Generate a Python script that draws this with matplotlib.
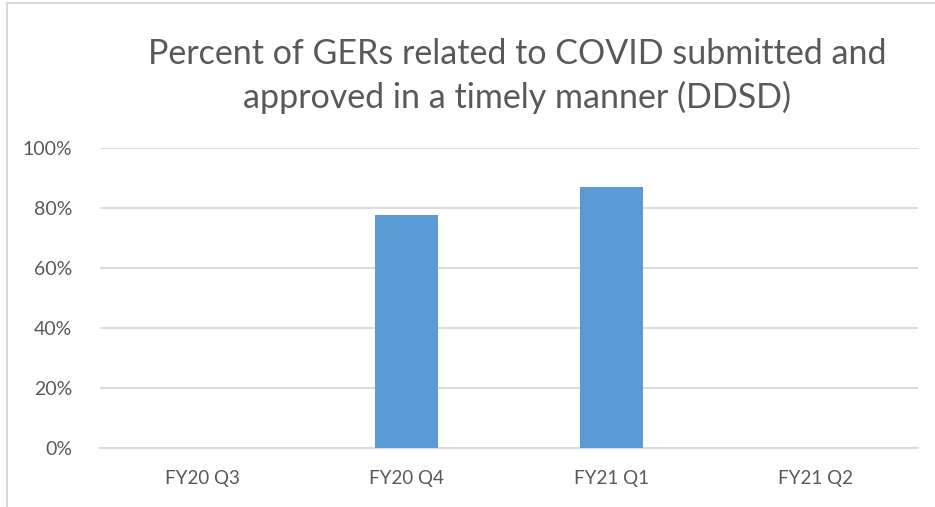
import matplotlib
matplotlib.use("Agg")
from matplotlib import pyplot as plt
from matplotlib.lines import Line2D
from matplotlib.ticker import FuncFormatter

# data
quarters = ["FY20 Q3", "FY20 Q4", "FY21 Q1", "FY21 Q2"]
pct = [0, 77.7, 87.0, 0]

plt.rcParams['font.family'] = ['Lato', 'DejaVu Sans']

fig = plt.figure(figsize=(9.35, 5.07), dpi=100)
ax = fig.add_axes([100/935, 1-448/507, 818/935, 300/507])

ax.bar(range(len(quarters)), pct, width=0.31, color="#5b9bd5", zorder=3)
ax.set_xlim(-0.5, len(quarters) - 0.5)
ax.set_ylim(0, 100)
ax.set_yticks(range(0, 101, 20))
ax.yaxis.set_major_formatter(FuncFormatter(lambda v, _: f"{v:.0f}%"))
ax.set_xticks(range(len(quarters)))
ax.set_xticklabels(quarters)

ax.grid(axis="y", color="#d9d9d9", linewidth=1.3, zorder=0)
for s in ["top", "right", "left"]:
    ax.spines[s].set_visible(False)
ax.spines["bottom"].set_color("#d9d9d9")
ax.spines["bottom"].set_linewidth(1.3)
ax.tick_params(axis="y", length=0, labelsize=14, labelcolor="#595959", pad=20)
ax.tick_params(axis="x", length=0, labelsize=13.5, labelcolor="#595959", pad=16)

fig.text(517/935, 1-76/507,
         "Percent of GERs related to COVID submitted and\napproved in a timely manner (DDSD)",
         ha="center", va="center", fontsize=24.5,
         color="#595959", linespacing=1.4)

# chart area border (only top and left visible in reference)
fig.add_artist(Line2D([7/935, 7/935], [0, 1-3/507], transform=fig.transFigure, color="#d9d9d9", lw=1.5))
fig.add_artist(Line2D([7/935, 1], [1-3/507, 1-3/507], transform=fig.transFigure, color="#d9d9d9", lw=1.5))

fig.savefig("out.png", dpi=100)
